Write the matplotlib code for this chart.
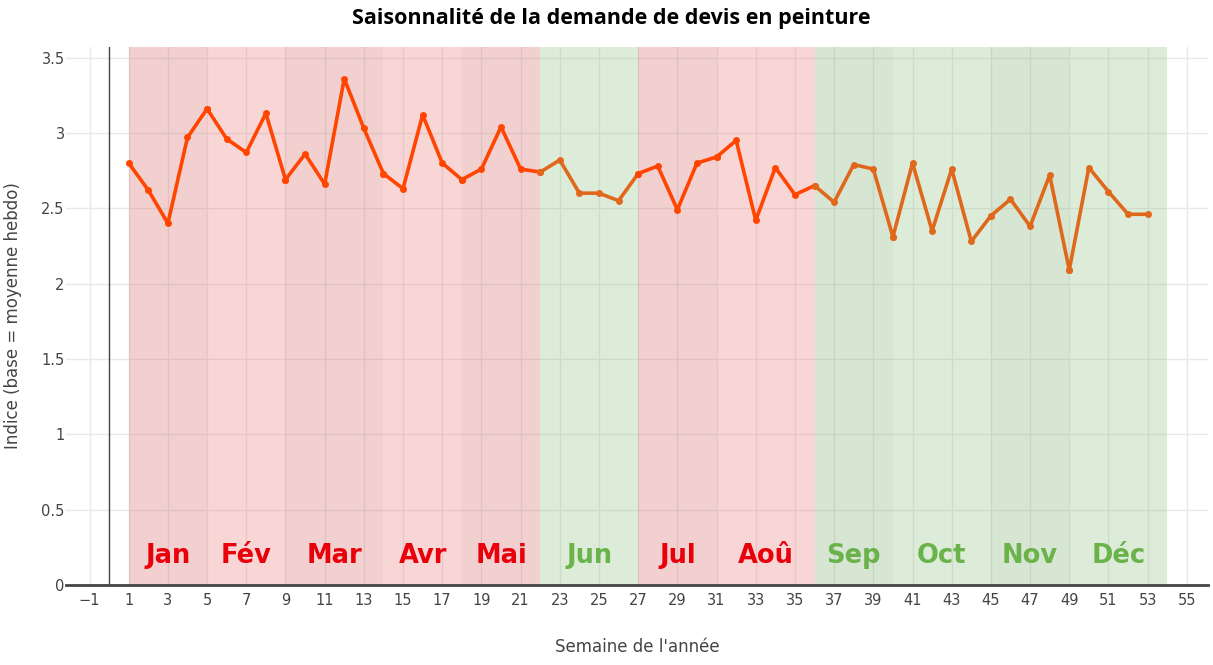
import matplotlib
matplotlib.use("Agg")
import matplotlib.pyplot as plt

plt.rcParams["font.family"] = ["DejaVu Sans"]

# ---- data ----
weeks = [1, 2, 3, 4, 5, 6, 7, 8, 9, 10, 11, 12, 13, 14, 15, 16, 17, 18, 19, 20,
         21, 22, 23, 24, 25, 26, 27, 28, 29, 30, 31, 32, 33, 34, 35, 36, 37, 38,
         39, 40, 41, 42, 43, 44, 45, 46, 47, 48, 49, 50, 51, 52, 53]
index_values = [2.80, 2.62, 2.40, 2.97, 3.16, 2.96, 2.87, 3.13, 2.69, 2.86,
                2.66, 3.36, 3.03, 2.73, 2.63, 3.12, 2.80, 2.69, 2.76, 3.04,
                2.76, 2.74, 2.82, 2.60, 2.60, 2.55, 2.73, 2.78, 2.49, 2.80,
                2.84, 2.95, 2.42, 2.77, 2.59, 2.65, 2.54, 2.79, 2.76, 2.31,
                2.80, 2.35, 2.76, 2.28, 2.45, 2.56, 2.38, 2.72, 2.09, 2.77,
                2.61, 2.46, 2.46]
month_names = ["Jan", "Fév", "Mar", "Avr", "Mai", "Jun",
               "Jul", "Aoû", "Sep", "Oct", "Nov", "Déc"]
month_start = [1, 5, 9, 14, 18, 22, 27, 31, 36, 40, 45, 49]
month_end = [5, 9, 14, 18, 22, 27, 31, 36, 40, 45, 49, 54]
month_high = [True, True, True, True, True, False,
              True, True, False, False, False, False]
x_ticks = [-1, 1, 3, 5, 7, 9, 11, 13, 15, 17, 19, 21, 23, 25, 27, 29, 31,
           33, 35, 37, 39, 41, 43, 45, 47, 49, 51, 53, 55]
y_ticks = [0, 0.5, 1, 1.5, 2, 2.5, 3, 3.5]
y_tick_labels = ["0", "0.5", "1", "1.5", "2", "2.5", "3", "3.5"]

# ---- styles ----
# translucent bands (alpha 0.3) so that gridlines show through slightly darker
red_band = ["#d46666", "#ee7a7a"]
green_band = ["#7daf6c", "#91c380"]
band_alpha = 0.3
red_text = "#e8000b"
green_text = "#6ab24a"
red_line = "#ff4500"
green_line = "#e0681d"

fig = plt.figure(figsize=(12.13, 6.65), dpi=100)
ax = fig.add_axes([66 / 1213, 1 - 585 / 665, (1208 - 66) / 1213, (585 - 47) / 665])

ax.set_xlim(-2.2, 56.08)
ax.set_ylim(0, 3.57)

for i, (name, s, e, hi) in enumerate(zip(month_names, month_start, month_end, month_high)):
    col = (red_band if hi else green_band)[i % 2]
    ax.axvspan(s, e, color=col, alpha=band_alpha, lw=0, zorder=0.8)
    ax.text((s + e) / 2, 0.19, name, ha="center", va="center",
            fontsize=18.5, fontweight="bold",
            color=red_text if hi else green_text, zorder=5)

for name, s, e, hi in zip(month_names, month_start, month_end, month_high):
    xs = [w for w in weeks if s <= w <= e]
    ys = [index_values[weeks.index(w)] for w in xs]
    c = red_line if hi else green_line
    ax.plot(xs, ys, color=c, lw=2.6, marker="o", markersize=5,
            markeredgewidth=0, zorder=3, solid_joinstyle="round",
            solid_capstyle="round")

ax.set_axisbelow(True)
ax.grid(True, color="#e8e8e8", lw=1, zorder=0.5)
ax.axvline(0, color="#444444", lw=1, zorder=1)

for sp in ["top", "right", "left"]:
    ax.spines[sp].set_visible(False)
ax.spines["bottom"].set_color("#444444")
ax.spines["bottom"].set_linewidth(2)
ax.spines["bottom"].set_zorder(4)

ax.set_xticks(x_ticks)
ax.set_xticklabels([str(t).replace("-", "\u2212") for t in x_ticks])
ax.set_yticks(y_ticks)
ax.set_yticklabels(y_tick_labels)
ax.tick_params(axis="both", length=0, labelsize=10.5, labelcolor="#444444")
ax.tick_params(axis="x", pad=6)
ax.tick_params(axis="y", pad=1)

ax.set_xlabel("Semaine de l'année", fontsize=12, color="#444444", labelpad=21)
ax.set_ylabel("Indice (base = moyenne hebdo)", fontsize=12, color="#444444",
              labelpad=14)

fig.suptitle("Saisonnalité de la demande de devis en peinture", x=0.504,
             y=0.988, fontsize=15.5, fontweight="bold", family="Open Sans",
             color="#000000")

fig.savefig("out.png", dpi=100)
